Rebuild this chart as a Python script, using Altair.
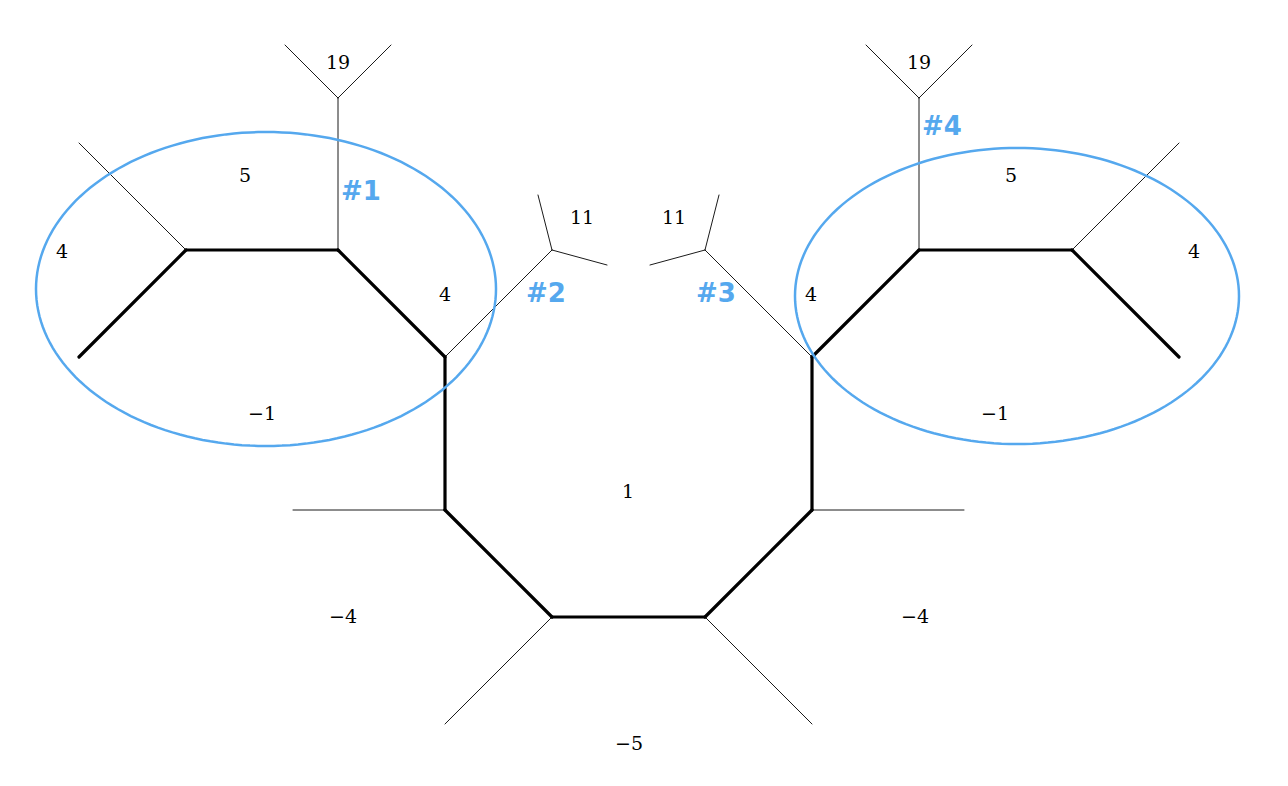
import altair as alt
import numpy as np
import pandas as pd

# segments of the tropical curve (pixel-like coordinates, y grows downward)
thick_x1 = [79, 186, 338, 445, 445, 552, 705, 812, 812, 919, 1072]
thick_y1 = [357, 250, 250, 357, 510, 617, 617, 510, 357, 250, 250]
thick_x2 = [186, 338, 445, 445, 552, 705, 812, 812, 919, 1072, 1179]
thick_y2 = [250, 250, 357, 510, 617, 617, 510, 357, 250, 250, 357]

thin_x1 = [79, 338, 338, 338, 445, 552, 552, 445, 552, 705, 812, 812, 705, 705, 919, 919, 919, 1072]
thin_y1 = [143, 250, 98, 98, 357, 250, 250, 510, 617, 617, 510, 357, 250, 250, 250, 98, 98, 250]
thin_x2 = [186, 338, 285, 391, 552, 538, 607, 293, 445, 812, 964, 705, 719, 650, 919, 866, 972, 1179]
thin_y2 = [250, 98, 45, 45, 250, 195, 265, 510, 724, 724, 510, 250, 195, 265, 98, 45, 45, 143]

num_text = ["19", "5", "4", "4", "11", "11", "−1", "1", "−4", "−4", "−5", "19", "5", "4", "4", "−1"]
num_x = [338, 245, 62, 445, 582, 674, 262, 628, 343, 915, 629, 919, 1011, 1194, 811, 995]
num_y = [63, 176, 252, 295, 218, 218, 414, 492, 617, 617, 744, 63, 176, 252, 295, 414]

tag_text = ["#1", "#2", "#3", "#4"]
tag_x = [361, 546, 716, 942]
tag_y = [192, 294, 294, 127]

ell_cx = [266, 1017]
ell_cy = [289, 296]
ell_rx = [230, 222]
ell_ry = [157, 148]

BLUE = "#55a8ee"

seg = pd.DataFrame({
    "x1": thick_x1 + thin_x1, "y1": thick_y1 + thin_y1,
    "x2": thick_x2 + thin_x2, "y2": thick_y2 + thin_y2,
    "w": [3.2] * len(thick_x1) + [0.9] * len(thin_x1),
})

t = np.linspace(0, 2 * np.pi, 181)
rows = []
for k in range(len(ell_cx)):
    for i, a in enumerate(t):
        rows.append({"e": k, "i": i,
                     "x": ell_cx[k] + ell_rx[k] * np.cos(a),
                     "y": ell_cy[k] + ell_ry[k] * np.sin(a)})
ell = pd.DataFrame(rows)

xs = alt.Scale(domain=[8, 1280], nice=False, zero=False)
ys = alt.Scale(domain=[8, 778], nice=False, zero=False, reverse=True)

segs = alt.Chart(seg).mark_rule(color="black", strokeCap="round").encode(
    x=alt.X("x1:Q", scale=xs, axis=None), y=alt.Y("y1:Q", scale=ys, axis=None),
    x2="x2:Q", y2="y2:Q",
    strokeWidth=alt.StrokeWidth("w:Q", scale=None),
)

ellipses = alt.Chart(ell).mark_line(color=BLUE, strokeWidth=2.5).encode(
    x=alt.X("x:Q", scale=xs, axis=None), y=alt.Y("y:Q", scale=ys, axis=None),
    detail="e:N", order="i:Q",
)

nums = alt.Chart(pd.DataFrame({"t": num_text, "x": num_x, "y": num_y})).mark_text(
    font="DejaVu Serif", fontSize=19, color="black"
).encode(x=alt.X("x:Q", scale=xs, axis=None), y=alt.Y("y:Q", scale=ys, axis=None), text="t:N")

tags = alt.Chart(pd.DataFrame({"t": tag_text, "x": tag_x, "y": tag_y})).mark_text(
    font="DejaVu Sans", fontSize=26, fontWeight="bold", color=BLUE
).encode(x=alt.X("x:Q", scale=xs, axis=None), y=alt.Y("y:Q", scale=ys, axis=None), text="t:N")

chart = alt.layer(segs, ellipses, nums, tags).properties(
    width=1272, height=770, autosize=alt.AutoSizeParams(type="none"), padding=0
).configure_view(stroke=None)

chart.save("out.html", embed_options={"renderer": "svg", "actions": False})
